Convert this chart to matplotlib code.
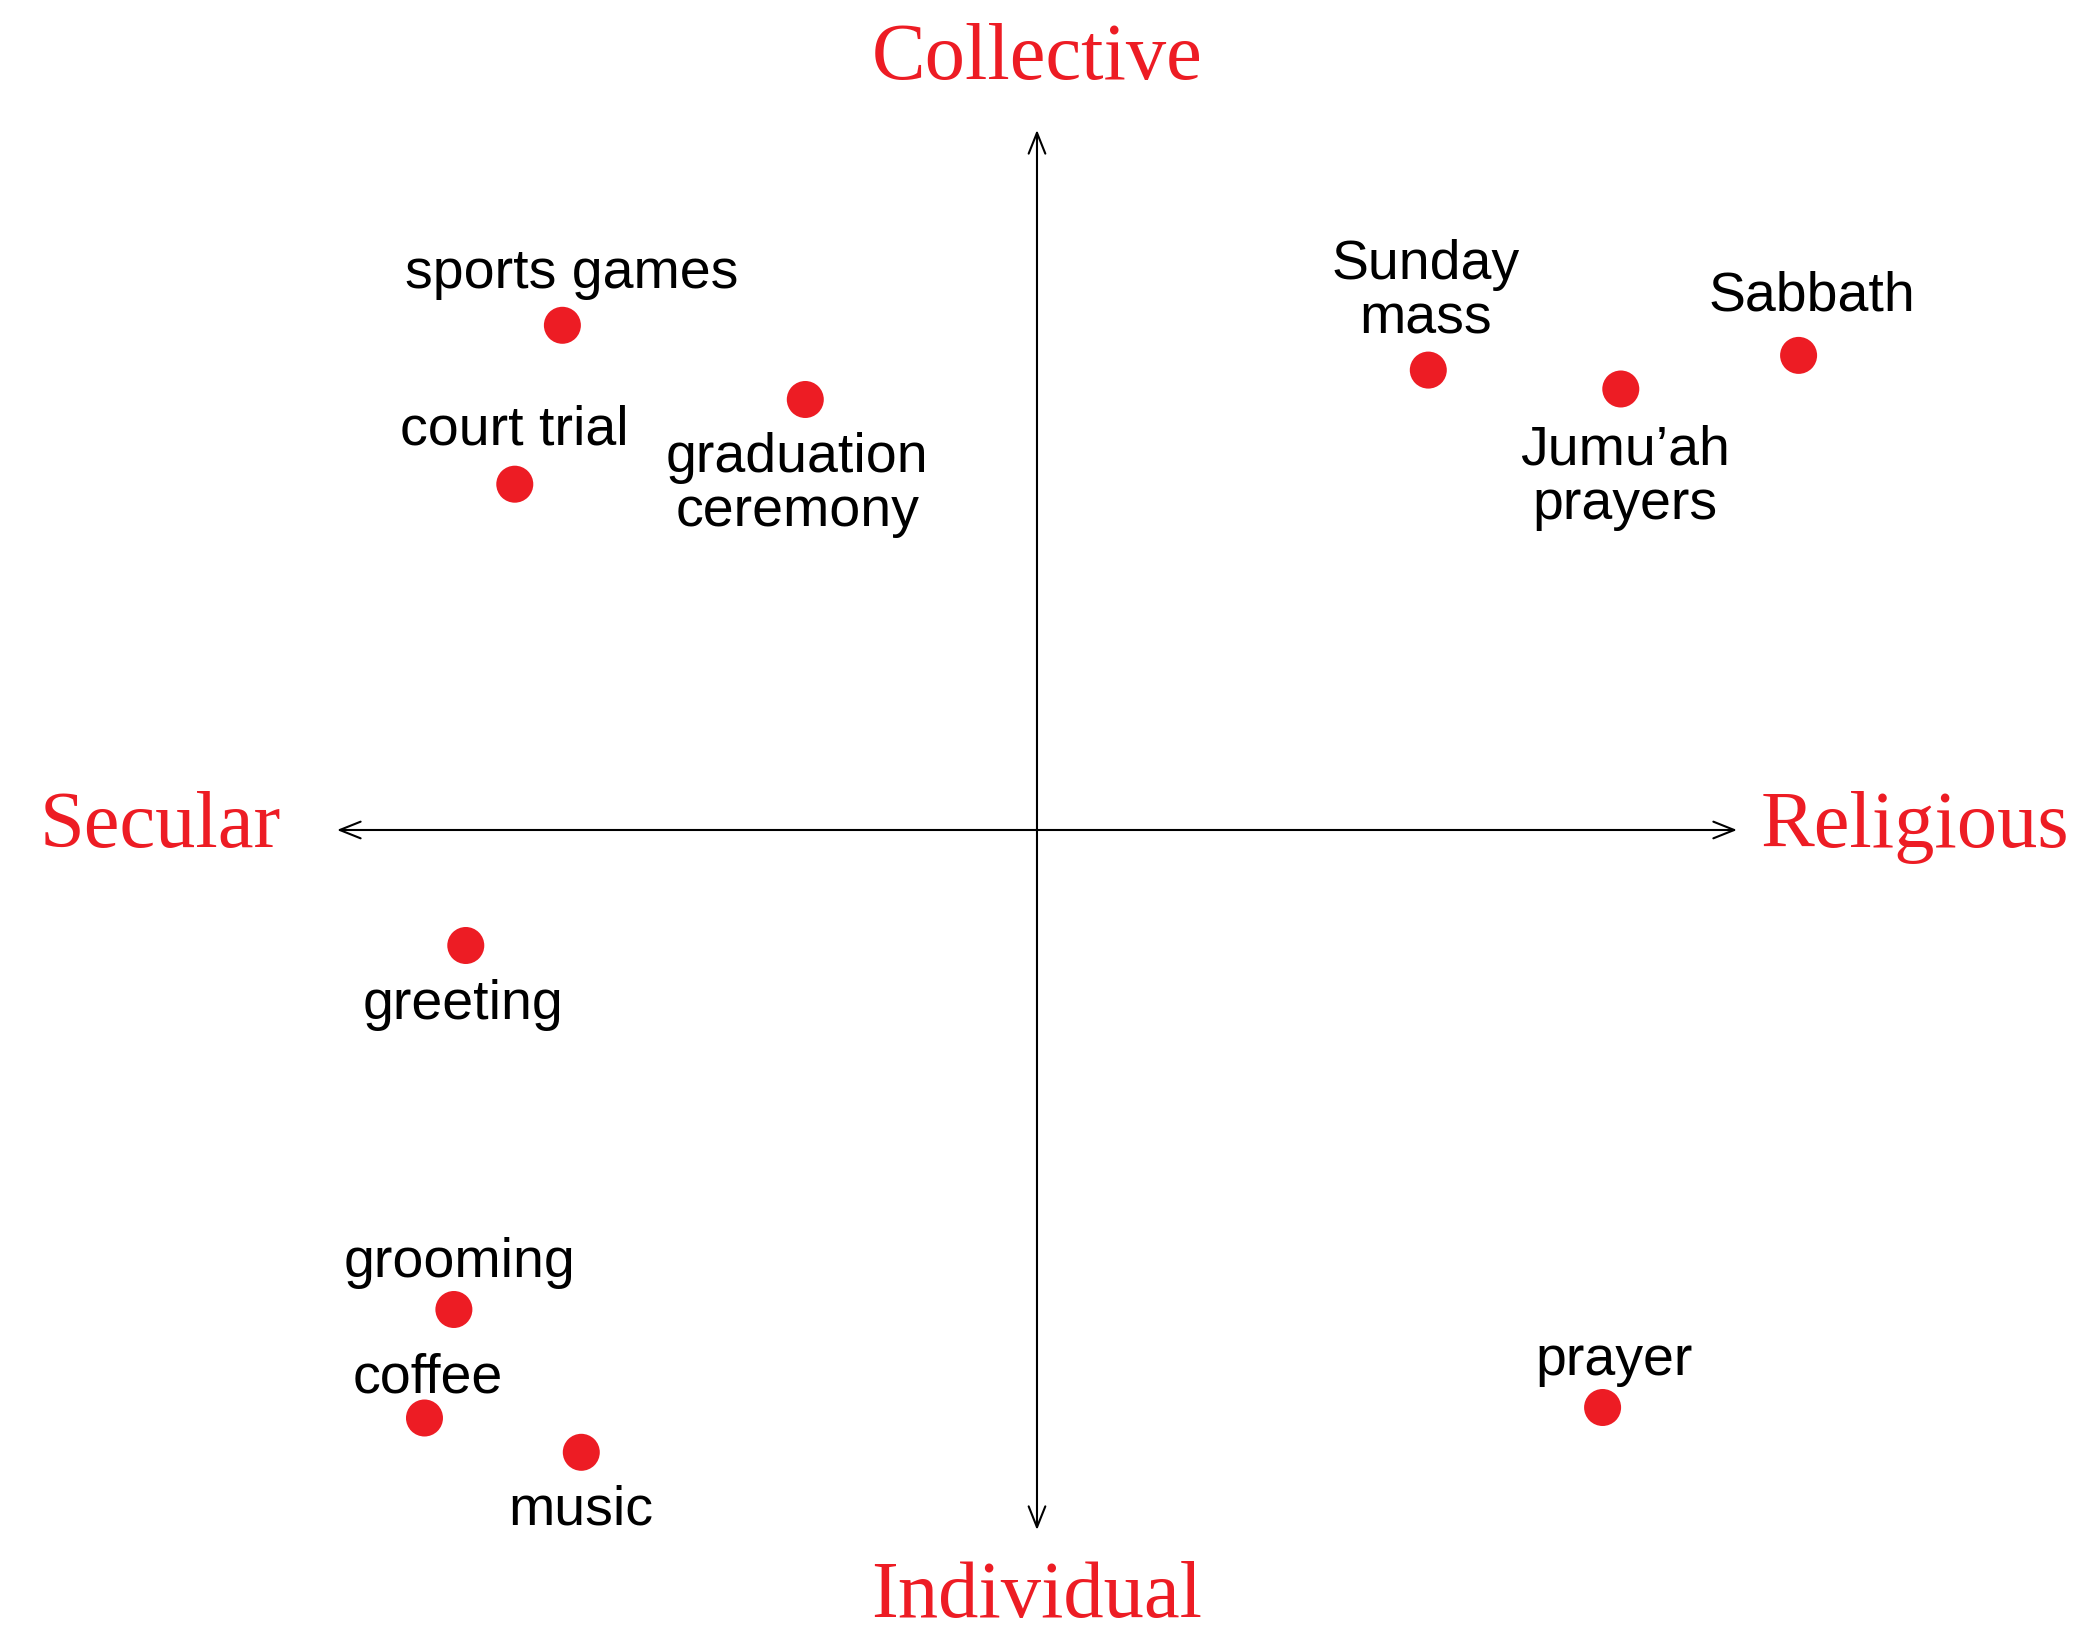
import matplotlib
matplotlib.use("Agg")
import matplotlib.pyplot as plt

# --- data (map coordinates, arrows run from -10 to 10) ---
labels = ["sports games", "graduation\nceremony", "court trial", "Sunday\nmass",
          "Jumu\u2019ah\nprayers", "Sabbath", "greeting", "grooming", "coffee",
          "music", "prayer"]
x_vals = [-6.78, -3.31, -7.46, 5.59, 8.34, 10.88, -8.16, -8.33, -8.75, -6.51, 8.08]
y_vals = [7.21, 6.15, 4.94, 6.57, 6.30, 6.78, -1.65, -6.85, -8.40, -8.89, -8.25]

axis_names = ["Collective", "Secular", "Religious", "Individual"]

# label offsets from each dot, in pixels
offsets = [(9, 51), (-8, -86), (0, 54), (-3, 78), (4, -89), (13, 59),
           (-3, -60), (6, 46), (3, 39), (-1, -58), (11, 46)]

RED = "#ED1C24"

fig = plt.figure(figsize=(20.8, 16.28), dpi=100)
ax = fig.add_axes([0, 0, 1, 1])
ax.set_xlim(-14.814, 14.9)
ax.set_ylim(-11.4, 11.857)
ax.axis("off")

arrow = dict(arrowstyle="<->,head_length=0.5,head_width=0.2", lw=1.5,
             color="black", shrinkA=0, shrinkB=0, mutation_scale=30)
ax.annotate("", xy=(10, 0), xytext=(-10, 0), arrowprops=arrow)
ax.annotate("", xy=(0, 10), xytext=(0, -10), arrowprops=arrow)

ax.scatter(x_vals, y_vals, s=710, color=RED, edgecolors="none", zorder=3)

for lab, x, y, (dx, dy) in zip(labels, x_vals, y_vals, offsets):
    ax.annotate(lab, (x, y), xytext=(dx, dy), textcoords="offset pixels",
                ha="center", va="center", fontsize=40, family="Liberation Sans",
                linespacing=1.05)

serif = dict(color=RED, fontsize=58, family="Liberation Serif",
             ha="center", va="center")
ax.text(0, 11.0, axis_names[0], **serif)
ax.text(-12.52, 0.03, axis_names[1], **serif)
ax.text(12.54, 0.03, axis_names[2], **serif)
ax.text(0, -10.96, axis_names[3], **serif)

fig.savefig("out.png", dpi=100)
